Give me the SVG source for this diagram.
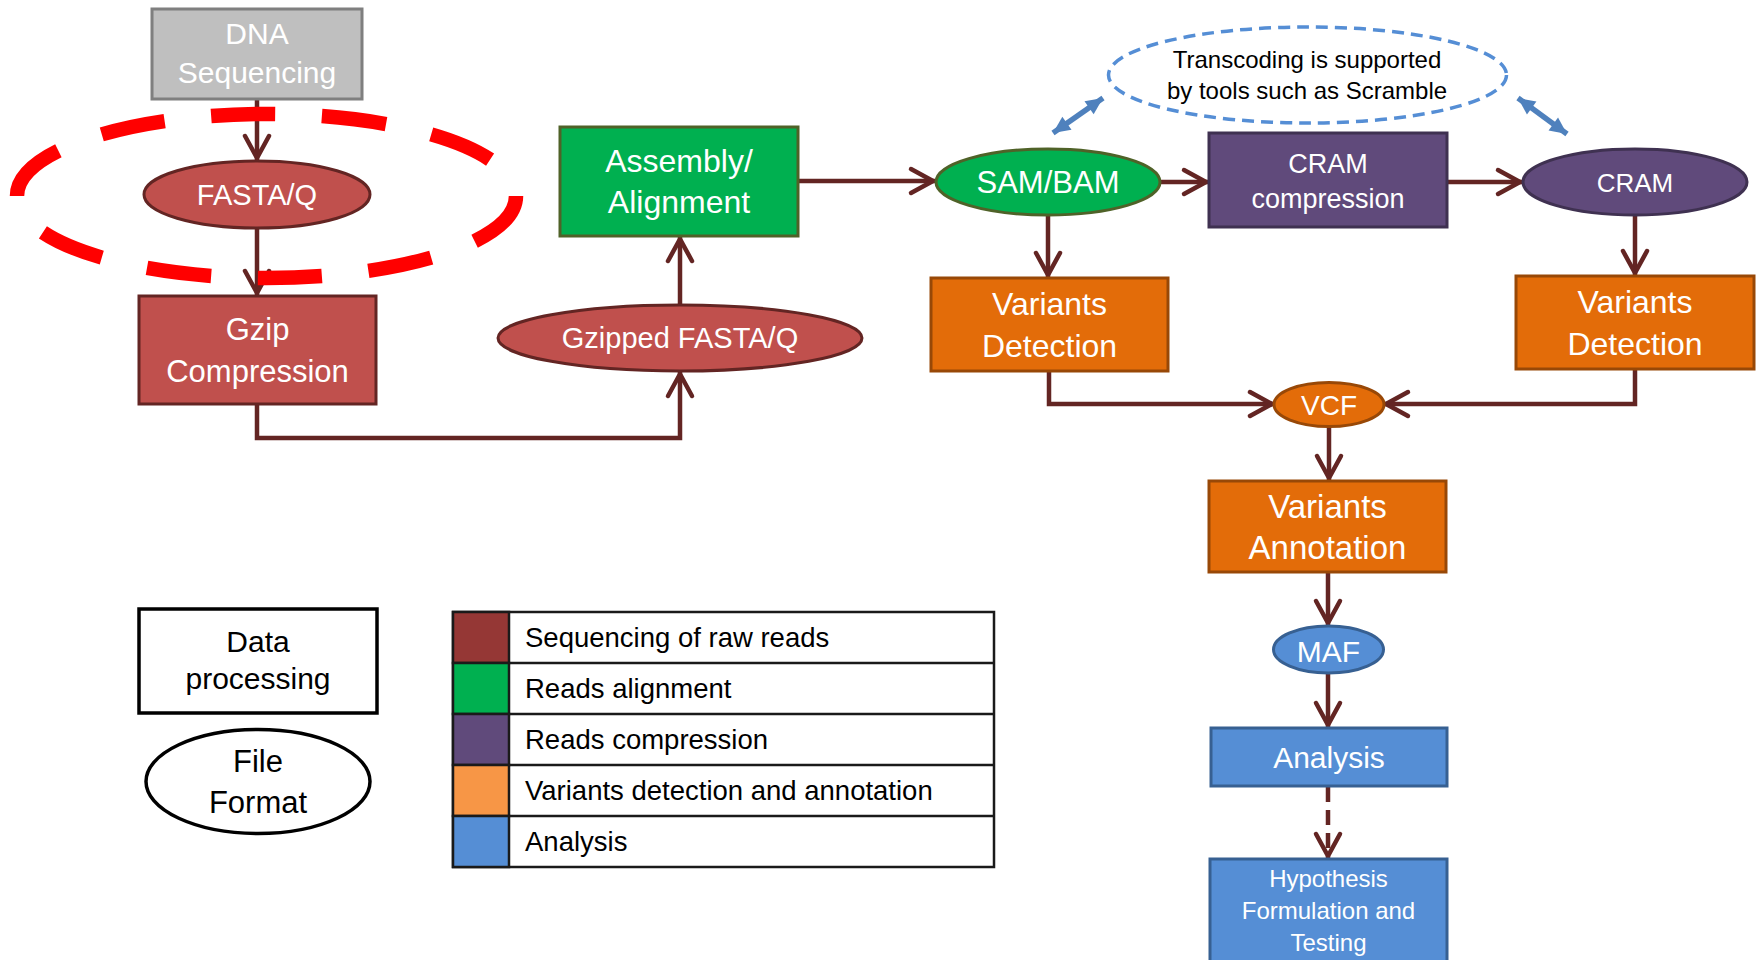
<svg xmlns="http://www.w3.org/2000/svg" width="1761" height="960" viewBox="0 0 1761 960">
<defs>
<style>
.conn{fill:none;stroke:#632523;stroke-width:4.5}
.dash{stroke-dasharray:15 8}
.blue{fill:none;stroke:#4f81bd;stroke-width:5.5}
.t{font-family:"Liberation Sans",Arial,sans-serif;fill:#ffffff;text-anchor:middle}
.k{font-family:"Liberation Sans",Arial,sans-serif;fill:#000000}
.red{fill:#c0504d;stroke:#632523;stroke-width:3}
.grey{fill:#bfbfbf;stroke:#7f7f7f;stroke-width:3}
.green{fill:#00b050;stroke:#4f6228;stroke-width:3}
.purple{fill:#604a7b;stroke:#3f3151;stroke-width:3}
.orange{fill:#e36c09;stroke:#984807;stroke-width:3}
.bluen{fill:#558ed5;stroke:#376092;stroke-width:3}
.leg{fill:#ffffff;stroke:#000000;stroke-width:3.5}
.cell{stroke:#1a1a1a;stroke-width:2.5}
</style>
<marker id="chev" markerUnits="userSpaceOnUse" markerWidth="40" markerHeight="40" viewBox="-30 -20 40 40" refX="0" refY="0" orient="auto" overflow="visible">
<path d="M-24,-12 L-2,0 L-24,12" fill="none" stroke="#632523" stroke-width="4.5" stroke-linecap="round" stroke-linejoin="round"/>
</marker>
<marker id="tri" markerUnits="userSpaceOnUse" markerWidth="30" markerHeight="30" viewBox="-20 -15 30 30" refX="0" refY="0" orient="auto-start-reverse" overflow="visible">
<path d="M0,0 L-17,-8 L-17,8 Z" fill="#4f81bd"/>
</marker>
</defs>
<rect width="1761" height="960" fill="#ffffff"/>

<g id="connectors">
<path class="conn" d="M257 99 L257 160" marker-end="url(#chev)"/>
<path class="conn" d="M257 228 L257 295" marker-end="url(#chev)"/>
<path class="conn" d="M257 404 L257 438 L680 438 L680 372" marker-end="url(#chev)"/>
<path class="conn" d="M680 305 L680 237" marker-end="url(#chev)"/>
<path class="conn" d="M798 181 L935 181" marker-end="url(#chev)"/>
<path class="conn" d="M1161 182 L1208 182" marker-end="url(#chev)"/>
<path class="conn" d="M1447 182 L1522 182" marker-end="url(#chev)"/>
<path class="conn" d="M1048 215 L1048 277" marker-end="url(#chev)"/>
<path class="conn" d="M1635 216 L1635 275" marker-end="url(#chev)"/>
<path class="conn" d="M1049 371 L1049 404 L1274 404" marker-end="url(#chev)"/>
<path class="conn" d="M1635 369 L1635 404 L1384 404" marker-end="url(#chev)"/>
<path class="conn" d="M1329 427 L1329 480" marker-end="url(#chev)"/>
<path class="conn" d="M1328 572 L1328 625" marker-end="url(#chev)"/>
<path class="conn" d="M1328 673 L1328 727" marker-end="url(#chev)"/>
<path class="conn dash" d="M1328 787 L1328 858" marker-end="url(#chev)"/>
<path class="blue" d="M1053 133 L1103 98" marker-start="url(#tri)" marker-end="url(#tri)"/>
<path class="blue" d="M1518 98 L1567 134" marker-start="url(#tri)" marker-end="url(#tri)"/>
</g>

<g id="dna-sequencing">
<rect class="grey" x="152" y="9" width="210" height="90"/>
<text class="t" x="257" y="44" font-size="30">DNA</text>
<text class="t" x="257" y="83" font-size="30">Sequencing</text>
</g>
<g id="fastaq">
<ellipse class="red" cx="257" cy="194.5" rx="113" ry="33.5"/>
<text class="t" x="257" y="205" font-size="29">FASTA/Q</text>
</g>
<g id="gzip-compression">
<rect class="red" x="139" y="296" width="237" height="108"/>
<text class="t" x="257.5" y="340" font-size="31">Gzip</text>
<text class="t" x="257.5" y="382" font-size="31">Compression</text>
</g>
<g id="gzipped-fastaq">
<ellipse class="red" cx="680" cy="338" rx="182" ry="33"/>
<text class="t" x="680" y="348" font-size="29">Gzipped FASTA/Q</text>
</g>
<g id="assembly-alignment">
<rect class="green" x="560" y="127" width="238" height="109"/>
<text class="t" x="679" y="172" font-size="32">Assembly/</text>
<text class="t" x="679" y="213" font-size="32">Alignment</text>
</g>
<g id="sam-bam">
<ellipse class="green" cx="1048" cy="182" rx="112" ry="33"/>
<text class="t" x="1048" y="193" font-size="31">SAM/BAM</text>
</g>
<g id="cram-compression">
<rect class="purple" x="1209" y="133" width="238" height="94"/>
<text class="t" x="1328" y="173" font-size="27">CRAM</text>
<text class="t" x="1328" y="208" font-size="27">compression</text>
</g>
<g id="cram">
<ellipse class="purple" cx="1635" cy="182" rx="112" ry="33"/>
<text class="t" x="1635" y="192" font-size="26">CRAM</text>
</g>
<g id="variants-detection-left">
<rect class="orange" x="931" y="278" width="237" height="93"/>
<text class="t" x="1049.5" y="315" font-size="32">Variants</text>
<text class="t" x="1049.5" y="357" font-size="32">Detection</text>
</g>
<g id="variants-detection-right">
<rect class="orange" x="1516" y="276" width="238" height="93"/>
<text class="t" x="1635" y="313" font-size="32">Variants</text>
<text class="t" x="1635" y="355" font-size="32">Detection</text>
</g>
<g id="vcf">
<ellipse class="orange" cx="1329" cy="404.5" rx="55" ry="22"/>
<text class="t" x="1329" y="415" font-size="28">VCF</text>
</g>
<g id="variants-annotation">
<rect class="orange" x="1209" y="481" width="237" height="91"/>
<text class="t" x="1327.5" y="518" font-size="33">Variants</text>
<text class="t" x="1327.5" y="559" font-size="33">Annotation</text>
</g>
<g id="maf">
<ellipse class="bluen" cx="1328.5" cy="649.5" rx="55" ry="23.5"/>
<text class="t" x="1328.5" y="662" font-size="30">MAF</text>
</g>
<g id="analysis">
<rect class="bluen" x="1211" y="728" width="236" height="58"/>
<text class="t" x="1329" y="768" font-size="30">Analysis</text>
</g>
<g id="hypothesis">
<rect class="bluen" x="1210" y="859" width="237" height="110"/>
<text class="t" x="1328.5" y="887" font-size="24">Hypothesis</text>
<text class="t" x="1328.5" y="919" font-size="24">Formulation and</text>
<text class="t" x="1328.5" y="951" font-size="24">Testing</text>
</g>

<g id="transcoding-note">
<ellipse cx="1307.5" cy="75" rx="199" ry="48" fill="none" stroke="#558ed5" stroke-width="3.5" stroke-dasharray="12 7"/>
<text class="k" x="1307" y="68" font-size="24" text-anchor="middle">Transcoding is supported</text>
<text class="k" x="1307" y="99" font-size="24" text-anchor="middle">by tools such as Scramble</text>
</g>

<g id="highlight">
<ellipse cx="266.5" cy="196" rx="249.5" ry="82" fill="none" stroke="#ff0000" stroke-width="14.5" pathLength="100" stroke-dasharray="5.8 4.2"/>
</g>

<g id="legend-data-processing">
<rect class="leg" x="139" y="609" width="238" height="104"/>
<text class="k" x="258" y="652" font-size="30" text-anchor="middle">Data</text>
<text class="k" x="258" y="689" font-size="30" text-anchor="middle">processing</text>
</g>
<g id="legend-file-format">
<ellipse class="leg" cx="258" cy="781.5" rx="112" ry="52"/>
<text class="k" x="258" y="772" font-size="31" text-anchor="middle">File</text>
<text class="k" x="258" y="813" font-size="31" text-anchor="middle">Format</text>
</g>
<g id="legend-table">
<rect class="cell" x="453" y="612" width="541" height="255" fill="#ffffff"/>
<rect class="cell" x="453" y="612" width="56" height="51" fill="#953735"/>
<rect class="cell" x="453" y="663" width="56" height="51" fill="#00b050"/>
<rect class="cell" x="453" y="714" width="56" height="51" fill="#604a7b"/>
<rect class="cell" x="453" y="765" width="56" height="51" fill="#f79646"/>
<rect class="cell" x="453" y="816" width="56" height="51" fill="#558ed5"/>
<path class="cell" d="M509 663 H994 M509 714 H994 M509 765 H994 M509 816 H994" fill="none"/>
<text class="k" x="525" y="647" font-size="27.5">Sequencing of raw reads</text>
<text class="k" x="525" y="698" font-size="27.5">Reads alignment</text>
<text class="k" x="525" y="749" font-size="27.5">Reads compression</text>
<text class="k" x="525" y="800" font-size="27.5">Variants detection and annotation</text>
<text class="k" x="525" y="851" font-size="27.5">Analysis</text>
</g>
</svg>
